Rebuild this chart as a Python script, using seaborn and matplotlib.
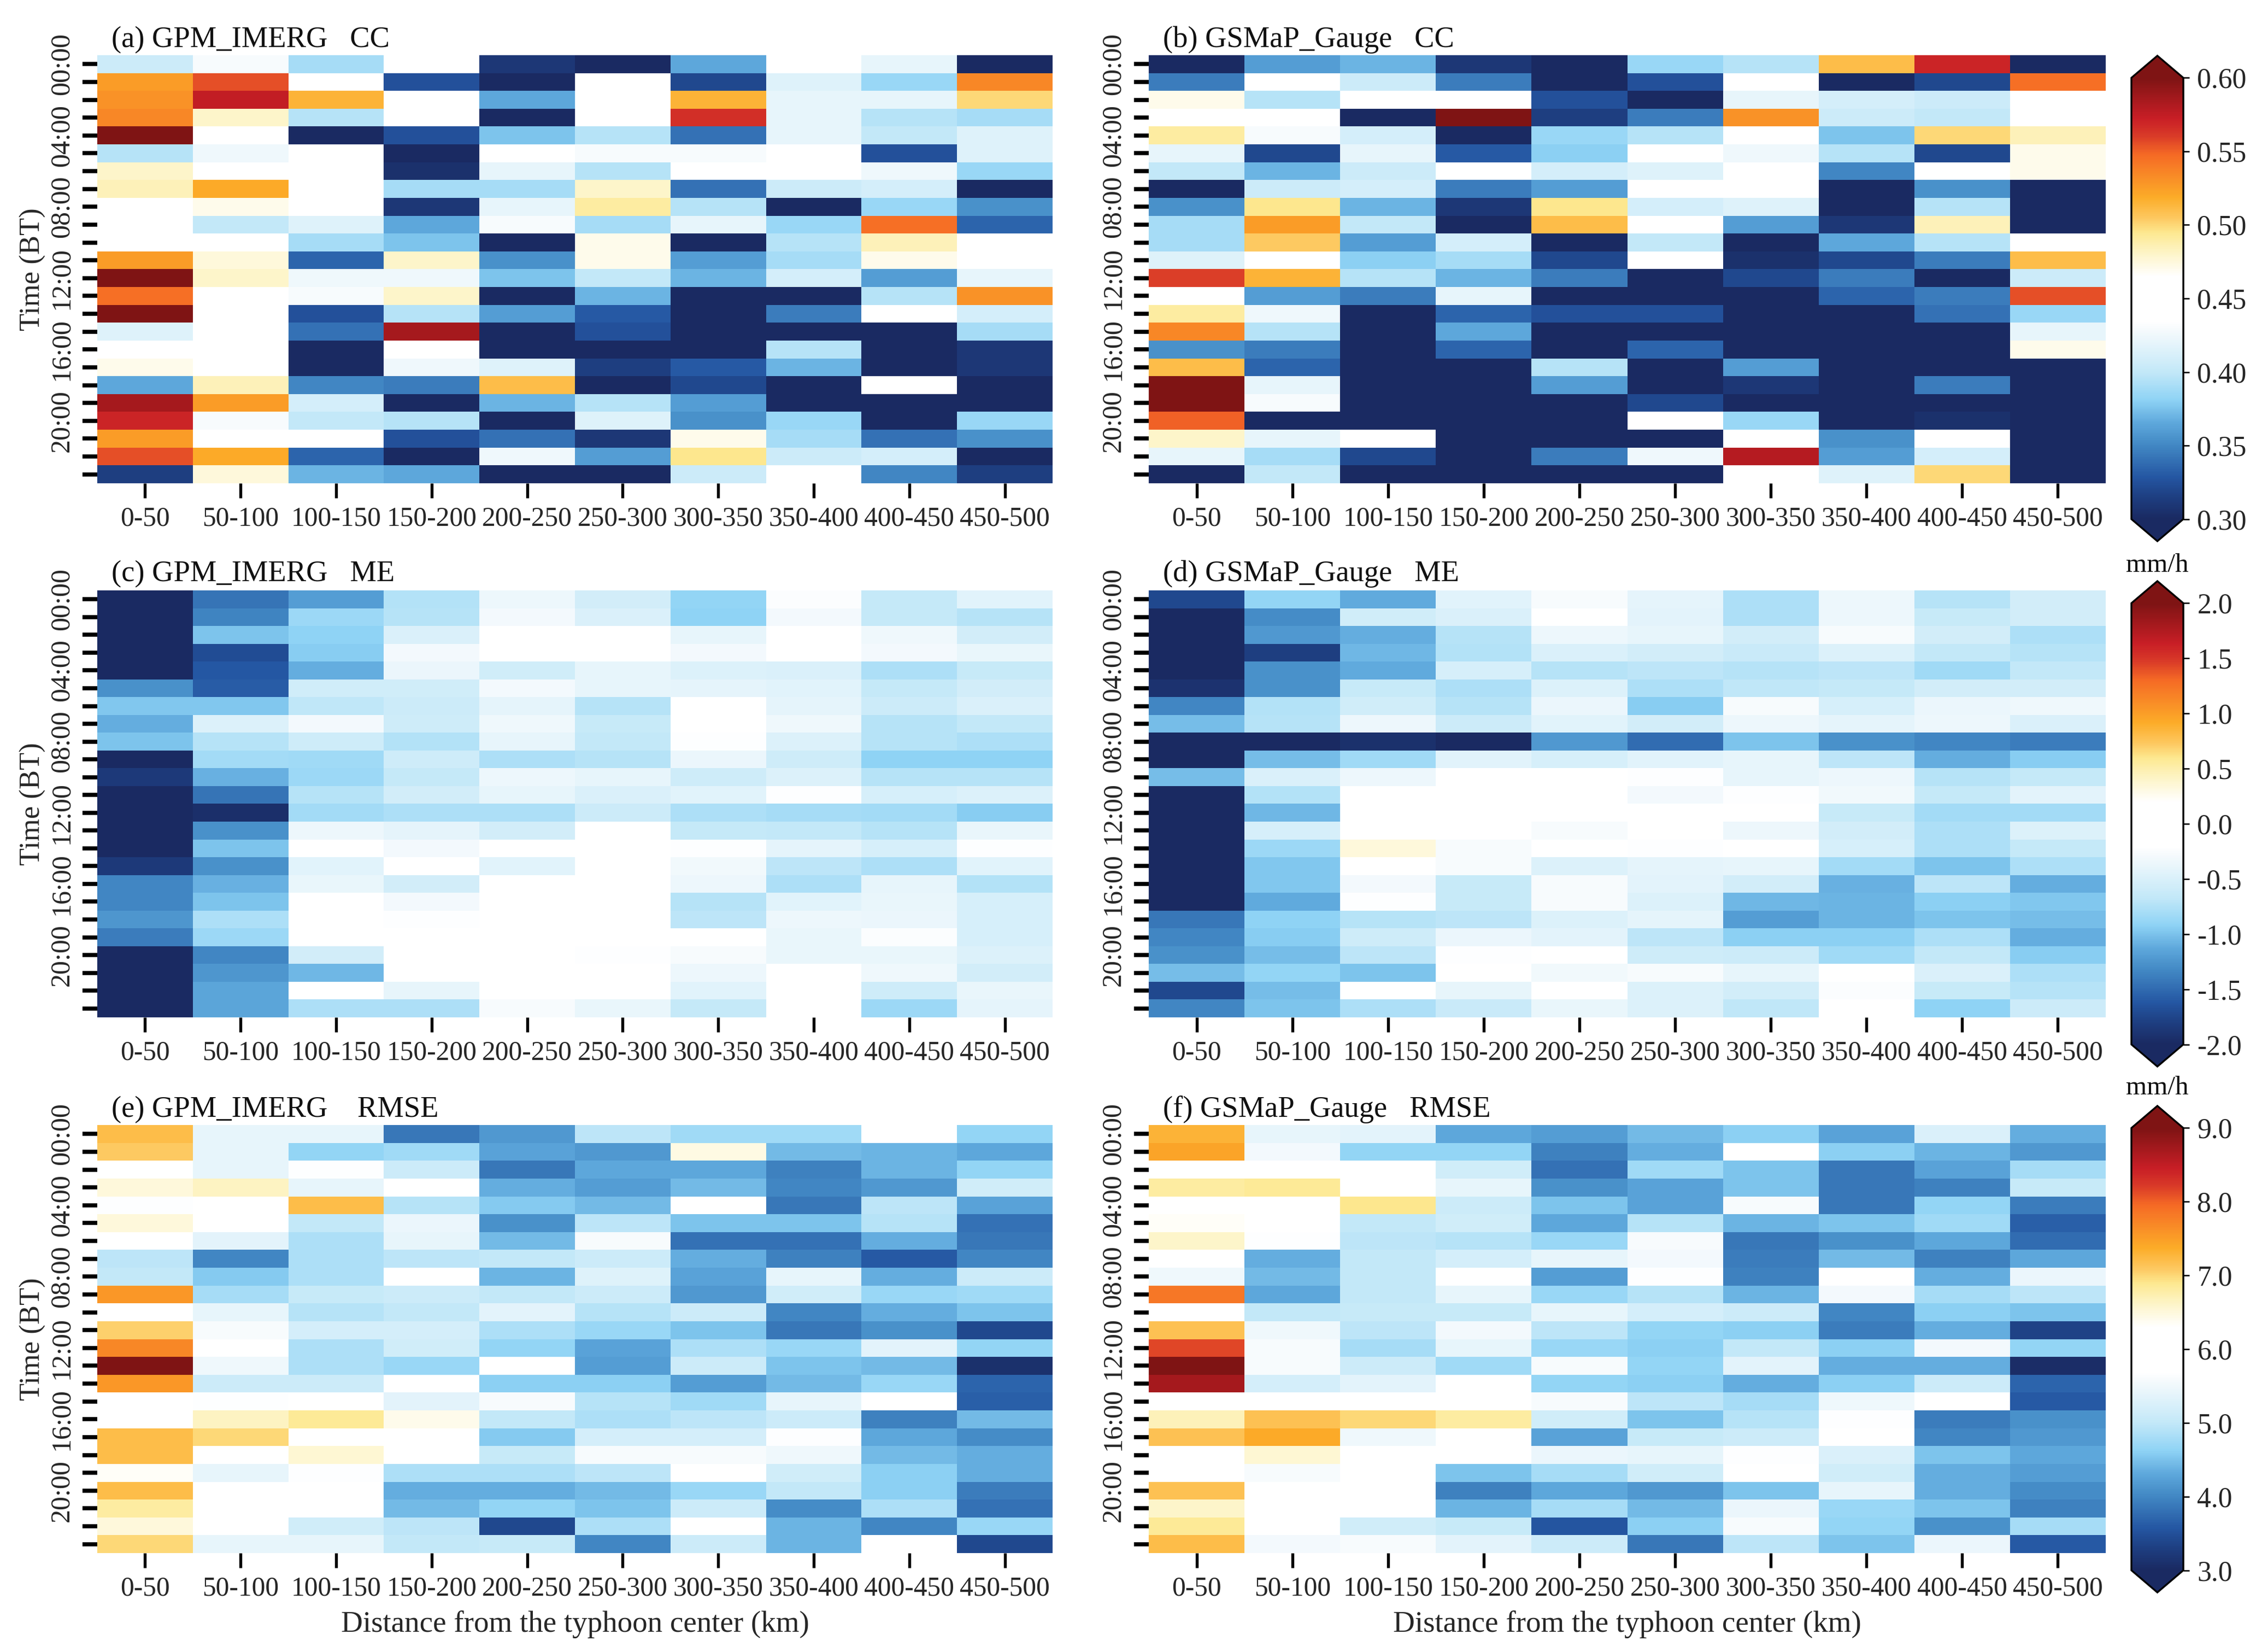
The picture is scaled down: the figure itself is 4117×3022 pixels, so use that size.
import matplotlib
matplotlib.use("Agg")
import matplotlib.pyplot as plt
import pandas as pd
import seaborn as sns
from matplotlib.colors import LinearSegmentedColormap

W, H = 4117, 3022

distance_labels = ["0-50", "50-100", "100-150", "150-200", "200-250",
                   "250-300", "300-350", "350-400", "400-450", "450-500"]
time_labels = ["00:00", "", "", "", "04:00", "", "", "", "08:00", "", "", "",
               "12:00", "", "", "", "16:00", "", "", "", "20:00", "", "", ""]

cc_gpm = [
    [.405, .43, .39, .45, .31, .30, .365, .45, .42, .30],
    [.525, .555, .435, .325, .30, .45, .32, .415, .385, .535],
    [.53, .575, .515, .45, .365, .45, .515, .42, .42, .50],
    [.535, .48, .395, .45, .30, .45, .565, .42, .395, .39],
    [.60, .45, .30, .325, .375, .395, .34, .42, .40, .415],
    [.395, .425, .45, .30, .44, .43, .43, .44, .325, .415],
    [.48, .45, .45, .305, .42, .395, .45, .45, .425, .385],
    [.485, .52, .435, .39, .39, .48, .34, .405, .41, .30],
    [.45, .47, .45, .31, .42, .49, .395, .30, .385, .355],
    [.45, .40, .415, .365, .43, .39, .42, .385, .545, .335],
    [.45, .45, .39, .375, .30, .47, .30, .395, .485, .45],
    [.525, .475, .335, .48, .355, .47, .36, .39, .47, .45],
    [.60, .48, .425, .425, .375, .40, .37, .41, .36, .42],
    [.545, .44, .43, .48, .30, .37, .30, .30, .395, .53],
    [.60, .45, .325, .395, .36, .33, .30, .345, .45, .41],
    [.415, .45, .34, .585, .30, .325, .30, .30, .30, .39],
    [.45, .45, .30, .45, .30, .30, .30, .395, .30, .31],
    [.47, .45, .30, .425, .415, .315, .33, .37, .30, .31],
    [.365, .485, .35, .345, .51, .30, .32, .30, .45, .30],
    [.585, .525, .41, .30, .37, .395, .36, .30, .30, .30],
    [.57, .43, .40, .395, .30, .415, .355, .385, .30, .385],
    [.525, .45, .45, .325, .34, .31, .47, .39, .34, .355],
    [.555, .52, .335, .30, .425, .36, .495, .405, .41, .30],
    [.315, .475, .37, .365, .30, .30, .405, .45, .35, .315],
]

cc_gsmap = [
    [.30, .36, .37, .31, .30, .385, .395, .51, .57, .30],
    [.345, .45, .405, .345, .30, .325, .45, .30, .32, .545],
    [.47, .395, .435, .45, .325, .30, .42, .41, .405, .45],
    [.44, .45, .30, .60, .315, .345, .53, .405, .40, .45],
    [.49, .43, .41, .30, .385, .395, .45, .375, .50, .485],
    [.42, .32, .42, .33, .38, .45, .425, .395, .32, .47],
    [.40, .37, .405, .45, .41, .415, .435, .35, .435, .47],
    [.30, .405, .41, .345, .36, .45, .45, .30, .355, .30],
    [.355, .495, .37, .31, .495, .41, .415, .30, .395, .30],
    [.39, .525, .40, .30, .51, .45, .36, .31, .485, .30],
    [.39, .505, .36, .41, .30, .40, .30, .365, .395, .44],
    [.415, .45, .38, .39, .32, .45, .305, .32, .345, .51],
    [.56, .515, .395, .37, .345, .30, .32, .345, .30, .405],
    [.45, .36, .345, .42, .30, .30, .30, .335, .345, .555],
    [.49, .425, .30, .335, .325, .325, .30, .30, .34, .385],
    [.535, .395, .30, .365, .30, .30, .30, .30, .30, .42],
    [.355, .345, .30, .335, .30, .335, .30, .30, .30, .47],
    [.51, .335, .30, .30, .395, .30, .36, .30, .30, .30],
    [.60, .42, .30, .30, .36, .30, .31, .30, .345, .30],
    [.60, .43, .30, .30, .30, .32, .30, .30, .30, .30],
    [.55, .30, .30, .30, .30, .45, .385, .30, .305, .30],
    [.48, .42, .45, .30, .30, .30, .45, .355, .45, .30],
    [.42, .39, .32, .30, .345, .425, .58, .36, .41, .30],
    [.30, .40, .30, .30, .30, .30, .45, .415, .50, .30],
]

me_gpm = [
    [-2, -1.45, -1.2, -.75, -.35, -.55, -.9, -.25, -.65, -.45],
    [-2, -1.35, -.85, -.72, -.3, -.5, -.92, -.3, -.65, -.72],
    [-2, -1.0, -.92, -.5, 0, 0, -.4, 0, -.33, -.55],
    [-2, -1.7, -.95, -.3, -.1, 0, -.3, -.1, -.3, -.38],
    [-2, -1.62, -1.1, -.37, -.57, -.4, -.47, -.5, -.77, -.63],
    [-1.27, -1.58, -.57, -.57, -.3, -.4, -.42, -.45, -.65, -.55],
    [-.97, -.97, -.68, -.6, -.42, -.73, 0, -.42, -.6, -.5],
    [-1.1, -.47, -.3, -.58, -.33, -.63, -.12, -.33, -.73, -.66],
    [-1.0, -.73, -.58, -.74, -.4, -.66, -.22, -.47, -.73, -.78],
    [-2, -.82, -.83, -.58, -.77, -.73, -.36, -.58, -.92, -.92],
    [-1.85, -1.08, -.85, -.65, -.35, -.4, -.58, -.47, -.72, -.72],
    [-2, -1.45, -.72, -.55, -.4, -.5, -.45, -.23, -.52, -.47],
    [-2, -1.95, -.82, -.77, -.77, -.6, -.77, -.8, -.82, -.95],
    [-2, -1.27, -.35, -.42, -.55, -.1, -.65, -.67, -.73, -.38],
    [-2, -1.0, 0, -.3, 0, 0, -.22, -.42, -.52, -.23],
    [-1.85, -1.27, -.45, -.2, -.45, 0, -.32, -.7, -.78, -.45],
    [-1.33, -1.08, -.38, -.55, 0, 0, -.35, -.78, -.4, -.75],
    [-1.33, -1.0, 0, -.3, 0, 0, -.73, -.45, -.38, -.52],
    [-1.25, -.78, 0, -.22, 0, 0, -.7, -.35, -.36, -.52],
    [-1.4, -.85, 0, 0, 0, 0, -.15, -.38, -.24, -.52],
    [-2, -1.33, -.55, 0, 0, -.22, -.27, -.38, -.38, -.47],
    [-2, -1.25, -1.05, 0, -.03, 0, -.35, 0, -.33, -.55],
    [-2, -1.15, 0, -.4, 0, 0, -.45, 0, -.58, -.38],
    [-2, -1.15, -.77, -.78, -.27, -.38, -.65, 0, -.85, -.42],
]

me_gsmap = [
    [-1.72, -.9, -1.12, -.45, -.28, -.42, -.77, -.35, -.73, -.55],
    [-2, -1.3, -.57, -.5, -.2, -.43, -.78, -.35, -.63, -.55],
    [-2, -1.22, -1.1, -.73, -.35, -.4, -.55, -.28, -.55, -.78],
    [-2, -1.8, -1.05, -.75, -.5, -.55, -.62, -.47, -.66, -.73],
    [-2, -1.27, -1.12, -.53, -.73, -.7, -.72, -.7, -.83, -.67],
    [-1.92, -1.27, -.63, -.78, -.47, -.78, -.68, -.65, -.55, -.55],
    [-1.33, -.75, -.57, -.72, -.37, -.95, -.27, -.53, -.37, -.33],
    [-1.02, -.72, -.35, -.6, -.45, -.55, -.35, -.42, -.35, -.5],
    [-2, -2, -1.93, -2, -1.22, -1.5, -1.0, -1.27, -1.33, -1.4],
    [-2, -1.02, -.83, -.45, -.53, -.45, -.4, -.7, -1.1, -.95],
    [-1.02, -.5, -.35, -.12, -.12, -.23, -.4, -.35, -.73, -.65],
    [-2, -.75, 0, 0, -.1, -.3, -.23, -.32, -.65, -.43],
    [-2, -1.05, 0, 0, -.12, 0, -.1, -.63, -.82, -.82],
    [-2, -.52, .2, 0, -.27, 0, -.35, -.55, -.77, -.47],
    [-2, -.85, .33, -.27, -.2, -.22, 0, -.53, -.77, -.65],
    [-2, -.97, 0, -.28, -.47, -.42, -.4, -.82, -1.0, -.78],
    [-2, -.97, -.3, -.63, -.27, -.43, -.55, -1.08, -.7, -1.1],
    [-2, -1.12, -.23, -.63, -.28, -.47, -1.05, -1.07, -.93, -.97],
    [-1.43, -.92, -.73, -.7, -.47, -.42, -1.2, -1.07, -1.0, -1.02],
    [-1.33, -.95, -.58, -.37, -.43, -.7, -.93, -.93, -.78, -1.1],
    [-1.27, -1.03, -.7, -.22, -.2, -.58, -.6, -.83, -.67, -.95],
    [-1.03, -.9, -1.0, -.2, -.32, -.27, -.4, 0, -.5, -.78],
    [-1.72, -1.02, 0, -.4, 0, -.47, -.55, -.25, -.63, -.73],
    [-1.33, -1.0, -.78, -.62, -.38, -.47, -.68, -.2, -.92, -.6],
]

rmse_gpm = [
    [7.2, 5.4, 5.4, 3.85, 4.15, 4.95, 4.75, 4.75, 6, 4.65],
    [7.1, 5.4, 4.65, 4.75, 4.25, 4.15, 6.45, 4.45, 4.4, 4.3],
    [6, 5.4, 5.65, 5.1, 3.85, 4.3, 4.3, 3.95, 4.4, 4.65],
    [6.5, 6.65, 5.4, 6, 4.35, 4.2, 4.45, 4.0, 4.15, 5.15],
    [5.65, 6, 7.2, 4.9, 4.55, 4.45, 6, 3.85, 4.95, 4.25],
    [6.5, 6, 5.0, 5.45, 4.1, 4.95, 4.5, 4.5, 4.9, 3.8],
    [6, 5.35, 4.85, 5.4, 4.45, 5.6, 3.8, 3.8, 4.35, 3.85],
    [4.95, 4.0, 4.85, 4.95, 5.0, 5.1, 4.35, 3.95, 3.6, 4.0],
    [5.0, 4.55, 4.85, 6, 4.4, 5.3, 4.25, 5.4, 4.35, 5.1],
    [7.55, 4.8, 5.05, 5.1, 5.0, 5.1, 4.15, 5.15, 4.7, 4.75],
    [6, 5.4, 4.9, 5.0, 5.35, 4.9, 5.1, 4.0, 4.35, 4.5],
    [7.05, 5.6, 5.2, 5.2, 4.85, 4.7, 4.5, 3.85, 4.1, 3.4],
    [7.7, 6, 4.85, 5.15, 4.65, 4.25, 4.85, 4.7, 5.35, 4.65],
    [9, 5.5, 4.85, 4.7, 5.7, 4.2, 5.1, 4.5, 4.45, 3.1],
    [7.55, 5.1, 5.1, 6, 4.6, 4.6, 4.2, 4.45, 4.7, 3.7],
    [6, 5.65, 6, 5.35, 5.6, 4.9, 4.75, 5.4, 6, 3.65],
    [6.3, 6.65, 6.85, 6.4, 5.0, 4.85, 4.95, 5.1, 3.95, 4.45],
    [7.2, 7.0, 6, 6, 4.55, 5.2, 5.2, 5.65, 4.3, 4.05],
    [7.2, 6, 6.55, 5.75, 5.05, 5.6, 5.6, 5.5, 4.45, 4.35],
    [6.35, 5.4, 5.65, 4.85, 4.85, 4.95, 6, 5.15, 4.6, 4.35],
    [7.2, 6, 6, 4.35, 4.35, 4.45, 4.7, 5.0, 4.6, 3.9],
    [6.8, 5.8, 6, 4.45, 4.65, 4.5, 5.1, 4.05, 4.85, 3.8],
    [6.5, 6, 5.15, 4.95, 3.4, 4.85, 6, 4.4, 4.0, 4.7],
    [7.0, 5.4, 5.4, 5.0, 5.05, 4.0, 5.1, 4.4, 6, 3.4],
]

rmse_gsmap = [
    [7.3, 5.4, 5.35, 4.3, 4.2, 4.45, 4.6, 4.25, 5.25, 4.35],
    [7.45, 5.55, 4.65, 4.65, 3.95, 4.35, 6, 4.6, 4.4, 4.15],
    [6, 6, 6, 5.15, 3.8, 4.75, 4.5, 3.85, 4.25, 4.8],
    [6.8, 6.85, 6, 5.4, 4.1, 4.25, 4.5, 3.85, 3.95, 5.05],
    [6.3, 6, 6.9, 5.1, 4.5, 4.25, 5.6, 3.85, 4.65, 3.9],
    [6.35, 6, 5.0, 5.15, 4.3, 4.9, 4.4, 4.5, 4.75, 3.65],
    [6.6, 5.65, 4.95, 4.9, 4.7, 5.6, 3.85, 4.1, 4.3, 3.75],
    [6, 4.35, 5.0, 5.2, 5.4, 5.55, 3.9, 4.45, 3.95, 4.3],
    [5.5, 4.45, 5.0, 6, 4.2, 5.65, 3.95, 5.7, 4.35, 5.45],
    [7.85, 4.3, 5.0, 5.4, 4.7, 4.9, 4.4, 5.55, 4.8, 4.95],
    [6, 5.0, 5.05, 5.05, 5.4, 5.2, 5.1, 4.0, 4.6, 4.5],
    [7.15, 5.5, 4.95, 5.55, 4.95, 4.65, 4.6, 3.9, 4.35, 3.35],
    [8.15, 5.6, 4.8, 5.4, 4.7, 4.6, 5.0, 4.6, 5.55, 4.65],
    [9.0, 5.6, 5.1, 4.75, 5.6, 4.65, 5.35, 4.35, 4.35, 3.05],
    [8.7, 5.2, 5.35, 6, 4.65, 4.6, 4.35, 4.6, 5.1, 3.7],
    [6, 5.8, 6, 6, 5.6, 4.95, 4.8, 5.5, 6, 3.6],
    [6.7, 7.15, 7.0, 6.8, 5.15, 4.5, 4.9, 5.65, 3.9, 4.1],
    [7.15, 7.4, 5.5, 6, 4.25, 5.05, 5.1, 5.7, 4.0, 4.15],
    [6, 6.55, 6.2, 6, 5.45, 5.4, 5.65, 5.25, 4.5, 4.3],
    [6, 5.6, 6, 4.5, 4.8, 5.15, 6, 5.15, 4.35, 4.2],
    [7.15, 6, 6, 3.95, 4.3, 4.15, 4.5, 5.4, 4.35, 4.05],
    [6.6, 5.75, 6, 4.4, 4.8, 4.45, 5.45, 4.7, 4.5, 3.95],
    [6.85, 6, 5.15, 5.05, 3.55, 4.6, 5.6, 4.65, 4.1, 4.8],
    [7.2, 5.55, 5.6, 5.35, 5.1, 3.85, 4.95, 4.5, 5.45, 3.6],
]

# colours, positions are fractions of its length
cmap_stops = [
    (0.0, "#1a2a62"), (0.05, "#1e3f82"), (0.093, "#2456a2"), (0.167, "#4288c4"),
    (0.217, "#5ea8dc"), (0.27, "#8fd3f5"), (0.333, "#c3e8f8"), (0.417, "#f0f8fc"),
    (0.448, "#ffffff"), (0.55, "#ffffff"), (0.61, "#fdf3c0"), (0.65, "#fde88f"),
    (0.683, "#fdc860"), (0.73, "#fcac28"), (0.827, "#f56a25"), (0.87, "#d93a28"),
    (0.91, "#c81e26"), (1.0, "#7f1414"),
]
cmap = LinearSegmentedColormap.from_list("blue_white_red", cmap_stops, N=256)

sns.set_theme(style="ticks")
plt.rcParams["font.family"] = ["Liberation Serif", "DejaVu Serif"]
plt.rcParams["axes.unicode_minus"] = False
plt.rcParams["text.color"] = "#111111"


def px_axes(fig, left, top, right, bottom):
    return fig.add_axes([left / W, 1 - bottom / H, (right - left) / W, (bottom - top) / H])


def draw_panel(fig, values, box, title, vmin, vmax, cbar_ax=None, ticks=None, fmt=None,
               ylabel=False, xlabel=False, title_gap=15):
    ax = px_axes(fig, *box)
    frame = pd.DataFrame(values, columns=distance_labels)
    sns.heatmap(
        frame,
        ax=ax,
        cmap=cmap,
        vmin=vmin,
        vmax=vmax,
        xticklabels=distance_labels,
        yticklabels=time_labels,
        cbar=cbar_ax is not None,
        cbar_ax=cbar_ax,
        cbar_kws=None if cbar_ax is None else
        {"extend": "both", "extendfrac": 0.05, "ticks": ticks, "format": fmt},
    )
    ax.tick_params(axis="x", length=6.5, width=1.3, pad=3.5, labelsize=11.9, labelrotation=0, color="black")
    ax.tick_params(axis="y", length=6.5, width=1.8, pad=3.5, labelsize=12, labelrotation=90, color="black")
    for lab in ax.get_yticklabels():
        lab.set_va("center")
    ax.text(0.015, 1 + title_gap / (box[3] - box[1]), title, transform=ax.transAxes,
            fontsize=13.1, ha="left", va="baseline")
    if ylabel:
        ax.set_ylabel("Time (BT)", fontsize=12.6)
        ax.yaxis.set_label_coords(-0.054, 0.5)
    if xlabel:
        ax.set_xlabel("Distance from the typhoon center (km)", fontsize=13.2, labelpad=4)
    if cbar_ax is not None:
        cb = ax.collections[0].colorbar
        cb.outline.set_linewidth(0.8)
        cb.outline.set_edgecolor("black")
        cbar_ax.tick_params(length=2.6, width=0.6, pad=3.5, labelsize=12.4, color="black")
    return ax


fig = plt.figure(figsize=(W / 300, H / 300), dpi=300, facecolor="white")

left_col = (178, 1926)
right_col = (2102, 3853)
row_a = (101, 884)
row_c = (1080, 1861)
row_e = (2058, 2841)

cax_cc = px_axes(fig, 3900, 102, 3995, 990)
cax_me = px_axes(fig, 3900, 1063, 3995, 1951)
cax_rmse = px_axes(fig, 3900, 2023, 3995, 2913)

draw_panel(fig, cc_gpm, (left_col[0], row_a[0], left_col[1], row_a[1]),
           "(a) GPM_IMERG   CC", 0.30, 0.60, ylabel=True)
draw_panel(fig, cc_gsmap, (right_col[0], row_a[0], right_col[1], row_a[1]),
           "(b) GSMaP_Gauge   CC", 0.30, 0.60, cbar_ax=cax_cc,
           ticks=[0.30, 0.35, 0.40, 0.45, 0.50, 0.55, 0.60], fmt="%.2f")
draw_panel(fig, me_gpm, (left_col[0], row_c[0], left_col[1], row_c[1]),
           "(c) GPM_IMERG   ME", -2, 2, ylabel=True, title_gap=17)
draw_panel(fig, me_gsmap, (right_col[0], row_c[0], right_col[1], row_c[1]),
           "(d) GSMaP_Gauge   ME", -2, 2, cbar_ax=cax_me,
           ticks=[-2, -1.5, -1, -0.5, 0, 0.5, 1, 1.5, 2], fmt="%.1f", title_gap=17)
draw_panel(fig, rmse_gpm, (left_col[0], row_e[0], left_col[1], row_e[1]),
           "(e) GPM_IMERG    RMSE", 3, 9, ylabel=True, xlabel=True, title_gap=15)
draw_panel(fig, rmse_gsmap, (right_col[0], row_e[0], right_col[1], row_e[1]),
           "(f) GSMaP_Gauge   RMSE", 3, 9, cbar_ax=cax_rmse,
           ticks=[3, 4, 5, 6, 7, 8, 9], fmt="%.1f", xlabel=True, title_gap=15)

fig.text(3947 / W, 1 - 1034 / H, "mm/h", ha="center", va="center", fontsize=11.8)
fig.text(3947 / W, 1 - 1990 / H, "mm/h", ha="center", va="center", fontsize=11.8)

fig.savefig("out.png", dpi=300)
